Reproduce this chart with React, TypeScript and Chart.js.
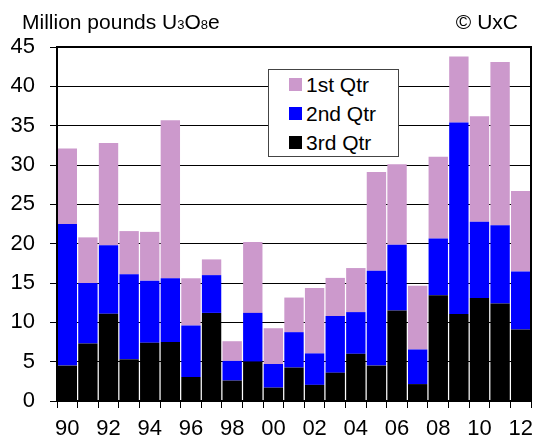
import React, { useEffect, useRef } from "react";
import { Chart, registerables } from "chart.js";

Chart.register(...registerables);

const years = ["90","91","92","93","94","95","96","97","98","99","00","01","02","03","04","05","06","07","08","09","10","11","12"];
const thirdQtr = [4.5, 7.3, 11.1, 5.3, 7.4, 7.5, 3.05, 11.2, 2.6, 5.0, 1.7, 4.25, 2.05, 3.6, 6.0, 4.5, 11.5, 2.15, 13.45, 11.05, 13.1, 12.4, 9.1];
const secondQtr = [18.0, 7.7, 8.7, 10.8, 7.9, 8.1, 6.55, 4.8, 2.5, 6.2, 3.0, 4.5, 4.0, 7.2, 5.3, 12.05, 8.35, 4.4, 7.2, 24.35, 9.7, 9.95, 7.35];
const firstQtr = [9.6, 5.8, 13.0, 5.5, 6.2, 20.1, 6.0, 2.0, 2.5, 9.0, 4.55, 4.4, 8.3, 4.85, 5.6, 12.55, 10.25, 8.1, 10.4, 8.4, 13.4, 20.75, 10.25];
const seriesNames = ["1st Qtr", "2nd Qtr", "3rd Qtr"];
const seriesColors = ["#CC99CC", "#0000FF", "#000000"];

const FONT = "'Liberation Sans', Arial, Helvetica, sans-serif";

const plotBorder = {
  id: "plotBorder",
  afterDraw(chart: any) {
    const { ctx, chartArea } = chart;
    ctx.save();
    ctx.strokeStyle = "#000";
    ctx.lineWidth = 2;
    ctx.strokeRect(chartArea.left, chartArea.top, chartArea.right - chartArea.left, chartArea.bottom - chartArea.top);
    ctx.restore();
  },
};

export default function App() {
  const ref = useRef<HTMLCanvasElement | null>(null);
  useEffect(() => {
    if (!ref.current) return;
    const chart = new Chart(ref.current, {
      type: "bar",
      data: {
        labels: years,
        datasets: [
          { label: seriesNames[2], data: thirdQtr, backgroundColor: seriesColors[2], borderWidth: 0 },
          { label: seriesNames[1], data: secondQtr, backgroundColor: seriesColors[1], borderWidth: 0 },
          { label: seriesNames[0], data: firstQtr, backgroundColor: seriesColors[0], borderWidth: 0 },
        ],
      },
      options: {
        animation: false,
        responsive: false,
        maintainAspectRatio: false,
        layout: { padding: { top: 47, right: 3, left: 0, bottom: 0 } },
        datasets: { bar: { barPercentage: 0.94, categoryPercentage: 1 } },
        plugins: { legend: { display: false }, tooltip: { enabled: false }, title: { display: false } },
        scales: {
          x: {
            stacked: true,
            afterFit: (s: any) => { s.height = 40; },
            grid: { drawOnChartArea: false, drawTicks: true, tickLength: 7, color: "#000", lineWidth: 1 },
            border: { display: true, color: "#000", width: 2 },
            ticks: {
              autoSkip: false,
              maxRotation: 0,
              padding: 8,
              color: "#000",
              font: { family: FONT, size: 22 },
              callback: (_v: any, i: number) => (i % 2 === 0 ? years[i] : ""),
            },
          },
          y: {
            stacked: true,
            min: 0,
            max: 45,
            afterFit: (s: any) => { s.width = 57; },
            grid: { color: "#000", lineWidth: 1, tickLength: 7, drawTicks: true },
            border: { display: true, color: "#000", width: 2 },
            ticks: { stepSize: 5, padding: 15, color: "#000", font: { family: FONT, size: 22 } },
          },
        },
      },
      plugins: [plotBorder],
    });
    return () => chart.destroy();
  }, []);

  const legendOrder = [0, 1, 2];
  return (
    <div style={{ position: "absolute", left: 0, top: 0, width: 541, height: 441, background: "#fff", fontFamily: FONT, color: "#000" }}>
      <canvas ref={ref} width={541} height={441} style={{ position: "absolute", left: 0, top: 0, width: 541, height: 441 }} />
      <div style={{ position: "absolute", left: 22, top: 11, fontSize: 21, lineHeight: "21px", whiteSpace: "nowrap" }}>
        Million pounds U<span style={{ fontSize: 13 }}>3</span>O<span style={{ fontSize: 13 }}>8</span>e
      </div>
      <div style={{ position: "absolute", right: 23, top: 11, fontSize: 21, lineHeight: "21px", whiteSpace: "nowrap" }}>© UxC</div>
      <div style={{ position: "absolute", left: 268, top: 69, width: 129, height: 86, border: "1px solid #444", background: "#fff" }}>
        {legendOrder.map((i) => (
          <div key={i} style={{ display: "flex", alignItems: "center", height: 29, paddingLeft: 20 }}>
            <span style={{ display: "inline-block", width: 13, height: 13, background: seriesColors[i] }} />
            <span style={{ marginLeft: 4, fontSize: 21, lineHeight: "21px", whiteSpace: "nowrap" }}>{seriesNames[i]}</span>
          </div>
        ))}
      </div>
    </div>
  );
}
